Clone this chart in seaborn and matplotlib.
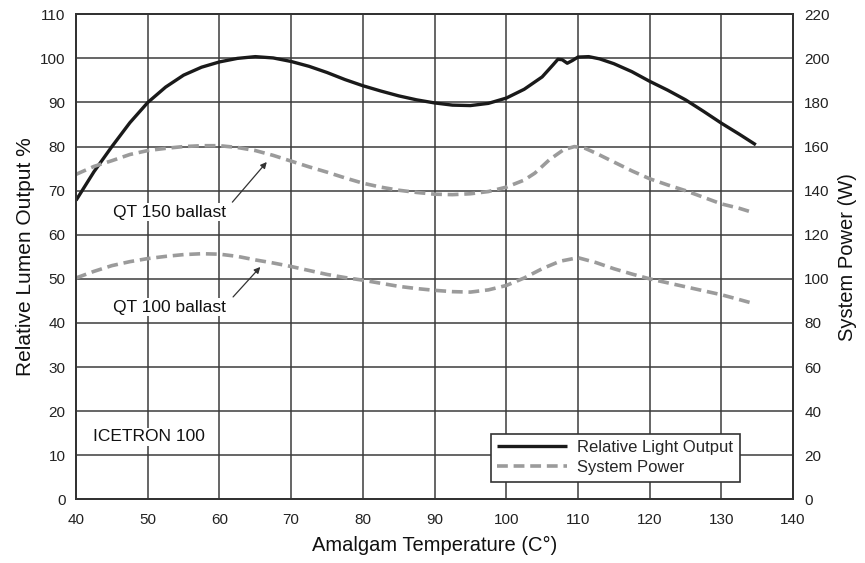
import matplotlib
matplotlib.use("Agg")
import matplotlib.pyplot as plt
import seaborn as sns
import pandas as pd

# Relative light output (%) vs amalgam temperature (°C)
light_temp = [40, 42.5, 45, 47.5, 50, 52.5, 55, 57.5, 60, 62.5, 65, 67.5, 70,
              72.5, 75, 77.5, 80, 82.5, 85, 87.5, 90, 92.5, 95, 97.5, 100,
              102.5, 105, 106.5, 107.2, 107.8, 108.5, 109.2, 110, 111.5, 113,
              115, 117.5, 120, 122.5, 125, 127.5, 130, 132.5, 134.8]
light_output = [67.8, 74.3, 80.0, 85.4, 90.0, 93.5, 96.2, 98.0, 99.2, 100.0,
                100.4, 100.1, 99.3, 98.2, 96.8, 95.2, 93.8, 92.6, 91.5, 90.6,
                89.9, 89.4, 89.3, 89.8, 91.0, 93.0, 95.8, 98.5, 99.8, 99.7,
                98.9, 99.5, 100.3, 100.4, 99.9, 98.8, 97.0, 94.8, 92.8, 90.6,
                88.0, 85.3, 82.8, 80.4]

# System power (W) with the two ballasts
qt150_temp = [40, 42.5, 45, 47.5, 50, 52.5, 55, 57.5, 60, 62.5, 65, 67.5, 70,
              72.5, 75, 77.5, 80, 82.5, 85, 87.5, 90, 92.5, 95, 97.5, 100,
              102.5, 104, 106, 108, 109.5, 111, 112.5, 115, 117.5, 120, 122.5,
              125, 127.5, 130, 132.5, 134.5]
qt150_power = [147.4, 151.0, 153.6, 156.4, 158.2, 159.2, 160.0, 160.4, 160.4,
               159.6, 158.2, 156.0, 153.4, 150.8, 148.4, 145.8, 143.4, 141.6,
               140.2, 139.2, 138.4, 138.2, 138.6, 139.6, 141.6, 144.8, 148.0,
               154.0, 158.6, 160.0, 159.2, 157.0, 153.0, 149.0, 145.4, 142.6,
               140.0, 137.0, 134.0, 132.0, 130.0]

qt100_temp = [40, 42.5, 45, 47.5, 50, 52.5, 55, 57.5, 60, 62.5, 65, 67.5, 70,
              72.5, 75, 77.5, 80, 82.5, 85, 87.5, 90, 92.5, 95, 97.5, 100,
              102.5, 105, 107.5, 110, 112.5, 115, 117.5, 120, 122.5, 125,
              127.5, 130, 132.5, 134.5]
qt100_power = [100.4, 103.4, 106.0, 107.8, 109.2, 110.2, 111.0, 111.4, 111.2,
               110.2, 108.6, 107.2, 105.6, 103.8, 102.0, 100.6, 99.4, 98.0,
               96.6, 95.6, 94.8, 94.2, 94.0, 95.0, 97.0, 100.4, 104.6, 108.0,
               109.6, 107.4, 104.6, 102.2, 100.0, 98.2, 96.4, 94.6, 92.8,
               90.6, 88.8]

x_ticks = list(range(40, 141, 10))
left_ticks = list(range(0, 111, 10))
right_ticks = list(range(0, 221, 20))

light_df = pd.DataFrame({"temp": light_temp, "value": light_output})
qt150_df = pd.DataFrame({"temp": qt150_temp, "value": qt150_power})
qt100_df = pd.DataFrame({"temp": qt100_temp, "value": qt100_power})

sns.set_style("white")
plt.rcParams["font.family"] = ["Liberation Sans", "DejaVu Sans"]

fig = plt.figure(figsize=(8.65, 5.63), dpi=100)
ax = fig.add_axes([0.0879, 0.1131, 0.829, 0.8615])
ax2 = ax.twinx()

black = "#1a1a1a"
gray = "#9b9b9b"
dash = (0, (3, 1.6))

sns.lineplot(data=light_df, x="temp", y="value", ax=ax, color=black,
             linewidth=2.4, solid_capstyle="butt")
sns.lineplot(data=qt150_df, x="temp", y="value", ax=ax2, color=gray,
             linewidth=2.6, linestyle=dash)
sns.lineplot(data=qt100_df, x="temp", y="value", ax=ax2, color=gray,
             linewidth=2.6, linestyle=dash)
for ln in ax2.lines:
    ln.set_dash_capstyle("butt")

ax.set_xlim(40, 140)
ax.set_ylim(0, 110)
ax2.set_ylim(0, 220)
ax.set_xticks(x_ticks)
ax.set_yticks(left_ticks)
ax2.set_yticks(right_ticks)

ax.grid(True, color="#3c3c3c", linewidth=1.1)
ax.set_axisbelow(True)

for a in (ax, ax2):
    for sp in a.spines.values():
        sp.set_color("#333333")
        sp.set_linewidth(1.4)

ax.tick_params(axis="x", length=0, pad=10, labelsize=11, labelcolor="#222222")
ax.tick_params(axis="y", length=0, pad=7.5, labelsize=11, labelcolor="#222222")
ax2.tick_params(axis="y", length=0, pad=8, labelsize=11, labelcolor="#222222")

ax.set_xlabel("Amalgam Temperature (C°)", fontsize=14.5, labelpad=6, color="#111111")
ax.set_ylabel("Relative Lumen Output %", fontsize=15, labelpad=4, color="#111111")
ax2.set_ylabel("System Power (W)", fontsize=14.5, labelpad=6, color="#111111")

# Ballast labels with leader arrows pointing at the power curves
text_box = dict(facecolor="white", edgecolor="none", pad=1.0)
arrow = dict(arrowstyle="-|>", color="#333333", lw=0.9, mutation_scale=9,
             shrinkA=0, shrinkB=0)
ax2.text(45.2, 130.2, "QT 150 ballast", fontsize=12.5, va="center",
         ha="left", bbox=text_box, color="#111111")
ax2.text(45.2, 87.2, "QT 100 ballast", fontsize=12.5, va="center",
         ha="left", bbox=text_box, color="#111111")
ax2.annotate("", xy=(66.6, 153.0), xytext=(61.8, 134.8), arrowprops=arrow)
ax2.annotate("", xy=(65.7, 105.4), xytext=(61.9, 91.8), arrowprops=arrow)

ax.text(42.4, 14.2, "ICETRON 100", fontsize=12.5, va="center", ha="left",
        bbox=text_box, color="#111111")

handles = [ax.lines[0], ax2.lines[0]]
leg = ax2.legend(handles, ["Relative Light Output", "System Power"],
                 loc="lower right", bbox_to_anchor=(0.926, 0.036),
                 borderaxespad=0, fontsize=12, handlelength=4.2,
                 handletextpad=0.6, labelspacing=0.3, borderpad=0.4,
                 fancybox=False, framealpha=1, edgecolor="#333333")
leg.get_frame().set_linewidth(1.2)

fig.savefig("out.png", dpi=100)
